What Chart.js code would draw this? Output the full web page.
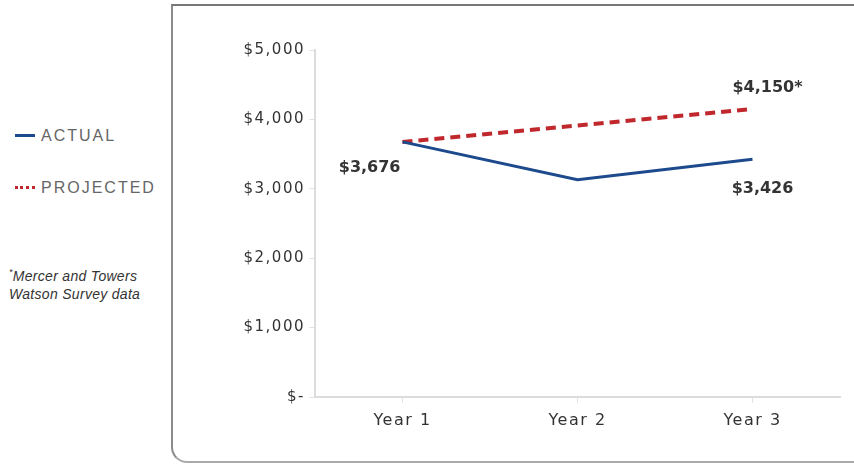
<!DOCTYPE html>
<html>
<head>
<meta charset="utf-8">
<script src="https://cdn.jsdelivr.net/npm/chart.js@4.4.1/dist/chart.umd.min.js"></script>
<style>
  html, body { margin: 0; padding: 0; background: #fff; }
  body { width: 854px; height: 465px; position: relative; overflow: hidden; font-family: "Liberation Sans", Arial, sans-serif; }
  #panel {
    position: absolute; left: 171px; top: 4px; width: 700px; height: 455px;
    border-top: 2px solid #777; border-left: 2px solid #8a8a8a; border-bottom: 2px solid #aaa;
    border-bottom-left-radius: 16px;
  }
  #chartBox { position: absolute; left: 175px; top: 0; width: 679px; height: 465px; }
  .legend-item { position: absolute; left: 15px; font-size: 16px; letter-spacing: 2px; color: #666; }
  .swatch { display: inline-block; width: 20px; height: 0; vertical-align: middle; margin-right: 6px; position: relative; top: -1px; }
  .note { position: absolute; left: 9px; top: 263px; font-size: 14px; font-style: italic; color: #333; line-height: 18px; letter-spacing: 0.3px; }
</style>
</head>
<body>
<div id="panel"></div>
<div class="legend-item" style="top:127px"><span class="swatch" style="border-top:3px solid #1d4a8c"></span>ACTUAL</div>
<div class="legend-item" style="top:179px"><span class="swatch" style="border-top:3px dotted #c0282d"></span>PROJECTED</div>
<div class="note"><sup style="font-size:9px">*</sup>Mercer and Towers<br>Watson Survey data</div>
<div id="chartBox"><canvas id="chart"></canvas></div>
<script>
// Data
const years = ['Year 1', 'Year 2', 'Year 3'];
const actualValues = [3676, 3130, 3426];
const projectedValues = [3676, 3913, 4150];
const yTicks = [0, 1000, 2000, 3000, 4000, 5000];

// which points get a value label: [datasetIndex, pointIndex, dx, dy, align, suffix]
const valueLabels = [
  [0, 0, -2, 26, 'right', ''],
  [0, 2, 10, 30, 'center', ''],
  [1, 2, 15, -21, 'center', '*']
];

function money(v) {
  return v === 0 ? '$-' : '$' + v.toLocaleString('en-US');
}

// spaced-out axis lettering like the original print
const spacing = {
  id: 'spacing',
  beforeDraw(chart) { chart.ctx.letterSpacing = '1.5px'; }
};

const pointLabels = {
  id: 'pointLabels',
  afterDatasetsDraw(chart) {
    const ctx = chart.ctx;
    ctx.save();
    ctx.letterSpacing = '0px';
    ctx.font = 'bold 16px "DejaVu Sans", sans-serif';
    ctx.fillStyle = '#333';
    ctx.textBaseline = 'middle';
    valueLabels.forEach(([ds, i, dx, dy, align, suffix]) => {
      const pt = chart.getDatasetMeta(ds).data[i];
      const v = chart.data.datasets[ds].data[i];
      ctx.textAlign = align;
      ctx.fillText(money(v) + suffix, pt.x + dx, pt.y + dy);
    });
    ctx.restore();
  }
};

new Chart(document.getElementById('chart'), {
  type: 'line',
  data: {
    labels: years,
    datasets: [
      {
        label: 'ACTUAL',
        data: actualValues,
        borderColor: '#1d4a8c',
        borderWidth: 3,
        pointRadius: 0,
        tension: 0
      },
      {
        label: 'PROJECTED',
        data: projectedValues,
        borderColor: '#c0282d',
        borderWidth: 4,
        borderDash: [10, 6],
        pointRadius: 0,
        tension: 0
      }
    ]
  },
  options: {
    responsive: true,
    maintainAspectRatio: false,
    animation: false,
    layout: { padding: { top: 50, right: 14, bottom: 35, left: 0 } },
    plugins: {
      legend: { display: false },
      tooltip: { enabled: false }
    },
    scales: {
      x: {
        offset: true,
        afterFit(scale) { scale.height = 33; },
        grid: { display: true, drawOnChartArea: false, tickLength: 6, color: '#e2e2e2', offset: false },
        border: { color: '#dcdcdc', width: 2 },
        ticks: { padding: 8, color: '#333', font: { family: '"DejaVu Sans", sans-serif', size: 16 } }
      },
      y: {
        min: 0,
        max: 5000,
        afterFit(scale) { scale.width = 140; },
        afterBuildTicks(scale) { scale.ticks = yTicks.map(v => ({ value: v })); },
        grid: { drawOnChartArea: false, tickLength: 6, color: '#e2e2e2' },
        border: { color: '#dcdcdc', width: 2 },
        ticks: {
          padding: 4,
          color: '#333',
          font: { family: '"DejaVu Sans", sans-serif', size: 15 },
          callback: v => money(v)
        }
      }
    }
  },
  plugins: [spacing, pointLabels]
});
</script>
</body>
</html>
